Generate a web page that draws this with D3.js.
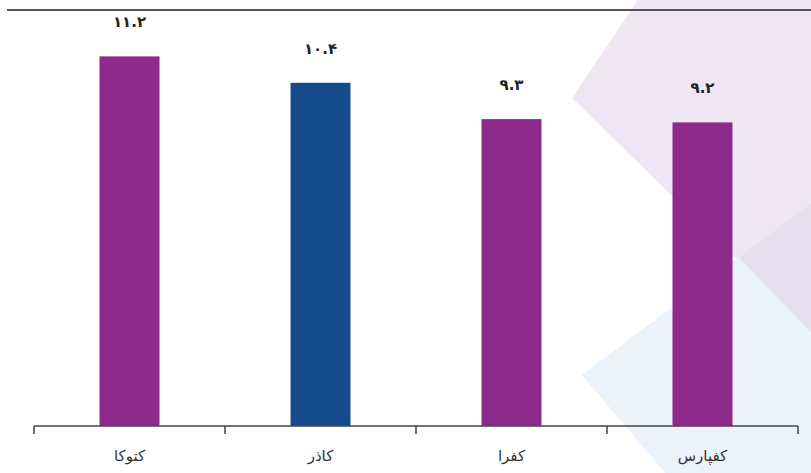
<!DOCTYPE html>
<html>
<head>
<meta charset="utf-8">
<script src="https://cdn.jsdelivr.net/npm/d3@7"></script>
<style>
  html, body { margin: 0; padding: 0; background: #fff; }
  svg { display: block; }
</style>
</head>
<body>
<svg id="chart" width="811" height="473"></svg>
<script>
const categories = ["کتوکا", "کاذر", "کفرا", "کفپارس"];
const values = [11.2, 10.4, 9.3, 9.2];
const barColors = ["#8E2A8B", "#134B8B", "#8E2A8B", "#8E2A8B"];
const yDomain = [0, 12];

const W = 811, H = 473;
const svg = d3.select("#chart");

// background decoration
const bg = svg.append("g");
bg.append("polygon").attr("points", "638,0 811,0 811,332 572,98").attr("fill", "#EEE6F3");
bg.append("polygon").attr("points", "582,375 811,203 811,473 665,473").attr("fill", "#ECF2FA");
bg.append("polygon").attr("points", "738.6,257.6 811,203 811,332").attr("fill", "#E4E0F0");

// top rule
svg.append("line").attr("x1", 7).attr("x2", W).attr("y1", 10).attr("y2", 10)
  .attr("stroke", "#555").attr("stroke-width", 2);

const x = d3.scaleBand().domain(categories).range([34, 798]).paddingInner(0.686).paddingOuter(0.343);
const y = d3.scaleLinear().domain(yDomain).range([426, 30]);

const toFa = s => s.replace(/[0-9]/g, d => "۰۱۲۳۴۵۶۷۸۹"[+d]);

const data = categories.map((c, i) => ({ c, v: values[i], col: barColors[i] }));

svg.append("g").selectAll("rect").data(data).join("rect")
  .attr("x", d => x(d.c)).attr("width", x.bandwidth())
  .attr("y", d => y(d.v)).attr("height", d => y(0) - y(d.v))
  .attr("fill", d => d.col);

svg.append("g").selectAll("text").data(data).join("text")
  .attr("x", d => x(d.c) + x.bandwidth() / 2)
  .attr("y", d => y(d.v) - 29)
  .attr("text-anchor", "middle")
  .attr("font-family", "DejaVu Sans, sans-serif")
  .attr("font-weight", "bold")
  .attr("font-size", 15)
  .attr("fill", "#222")
  .text(d => toFa(d.v.toFixed(1)));

// axis
const axisG = svg.append("g").attr("transform", `translate(0,${y(0)})`);
axisG.call(d3.axisBottom(x).tickSize(0).tickPadding(24));
axisG.select(".domain").remove();
axisG.selectAll("text")
  .attr("font-family", "DejaVu Sans, sans-serif")
  .attr("font-size", 15)
  .attr("fill", "#333");
axisG.append("line").attr("x1", x.range()[0]).attr("x2", x.range()[1])
  .attr("stroke", "#444").attr("stroke-width", 1.5);
const gap = (x.step() - x.bandwidth()) / 2;
const bounds = categories.map(c => x(c) - gap).concat([x(categories[categories.length - 1]) + x.bandwidth() + gap]);
axisG.selectAll("line.tk").data(bounds).join("line").attr("class", "tk")
  .attr("x1", d => d).attr("x2", d => d).attr("y1", 0).attr("y2", 8)
  .attr("stroke", "#444").attr("stroke-width", 1.5);
</script>
</body>
</html>
